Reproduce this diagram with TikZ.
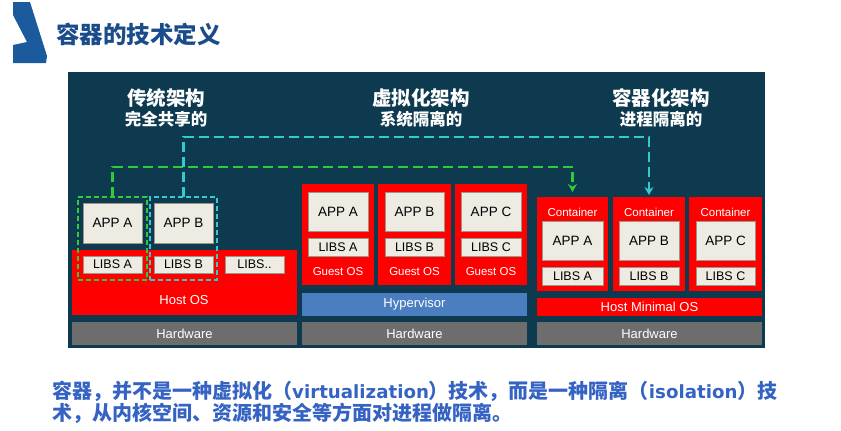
\documentclass[tikz,border=0pt]{standalone}
\usepackage{fontspec}
\setmainfont{Liberation Sans}
\newfontfamily\cjk{Noto Sans CJK SC}
\newfontfamily\dvs{DejaVu Sans}
\usetikzlibrary{arrows.meta}
\definecolor{panelc}{HTML}{0E3A50}
\definecolor{redc}{HTML}{FF0000}
\definecolor{boxc}{HTML}{EEEBE2}
\definecolor{boxedge}{HTML}{9A968C}
\definecolor{hwc}{HTML}{6D6D6D}
\definecolor{hypc}{HTML}{4A7EC0}
\definecolor{dgreen}{HTML}{2FCB3A}
\definecolor{dcyan}{HTML}{33CCCC}
\definecolor{titleblue}{HTML}{1A4C8C}
\definecolor{logoblue}{HTML}{1B5A9C}
\definecolor{txtblue}{HTML}{3463C4}
\newcommand\mkbox[7]{\node[#2,minimum width={(#5)-(#3)},minimum height={(#6)-(#4)}] (#1) at ({((#3)+(#5))/2},{((#4)+(#6))/2}) {#7};}
\tikzset{
  basebox/.style={inner sep=0pt, outer sep=0pt},
  lightbox/.style={basebox, fill=boxc, draw=boxedge, line width=0.3pt, text=black, font=\fontsize{13.5}{15}\selectfont},
  libbox/.style={lightbox, font=\fontsize{12.5}{14}\selectfont},
  redbox/.style={basebox, fill=redc, text=white, font=\fontsize{13}{15}\selectfont},
  hwbox/.style={basebox, fill=hwc, text=white, font=\fontsize{13}{15}\selectfont},
  hypbox/.style={basebox, fill=hypc, text=white, font=\fontsize{13}{15}\selectfont},
  whitetxt/.style={inner sep=0pt, text=white, font=\fontsize{13}{15}\selectfont},
  smalltxt/.style={inner sep=0pt, text=white, font=\fontsize{11.5}{13}\selectfont},
  gdashbox/.style={basebox, draw=dgreen, line width=2pt, dash pattern=on 5pt off 3pt},
  cdashbox/.style={basebox, draw=dcyan, line width=2pt, dash pattern=on 5pt off 3pt},
  gdash/.style={draw=dgreen, line width=2.8pt, dash pattern=on 10pt off 5pt, -{Stealth[length=8pt,width=9pt]}},
  cdash/.style={draw=dcyan, line width=2.8pt, dash pattern=on 10pt off 5pt, -{Stealth[length=8pt,width=9pt]}},
  head/.style={inner sep=0pt, text=white, font=\cjk\bfseries\fontsize{19.5}{21}\selectfont},
  subhead/.style={inner sep=0pt, text=white, font=\cjk\bfseries\fontsize{16.5}{18}\selectfont},
  bottomtxt/.style={anchor=west, inner sep=0pt, text=txtblue, font=\cjk\bfseries\fontsize{20}{22}\selectfont},
}
\newcommand\latw[1]{{\dvs\bfseries\fontsize{18.2}{20}\selectfont #1}}
\begin{document}
\begin{tikzpicture}[x=1pt,y=-1pt]
\useasboundingbox (0,0) rectangle (841,431);
\fill[white] (0,0) rectangle (841,431);
% logo and title
\fill[logoblue] (13,2) -- (30,2) -- (47,56) -- (46,63) -- (13,63) -- (13,45) -- (27,42) -- (13,15) -- cycle;
\node[anchor=west, inner sep=0pt, text=titleblue, font=\cjk\bfseries\fontsize{23.5}{26}\selectfont] (title) at (56,34) {容器的技术定义};
% panel
\mkbox{panel}{basebox, fill=panelc}{68}{72}{765}{348}{}
% headings
\node[head] (h1) at (166,98) {传统架构};
\node[subhead] (s1) at (166,119) {完全共享的};
\node[head] (h2) at (421,98) {虚拟化架构};
\node[subhead] (s2) at (421,119) {系统隔离的};
\node[head] (h3) at (661,98) {容器化架构};
\node[subhead] (s3) at (661,119) {进程隔离的};
% column 1
\mkbox{hw1}{hwbox}{72}{322}{297}{345}{Hardware}
\mkbox{hos1}{redbox}{72}{250}{297}{315}{}
\node[whitetxt] (hos1L) at (184,300) {Host OS};
\mkbox{appA1}{lightbox}{83}{203}{142}{243}{APP A}
\mkbox{appB1}{lightbox}{154}{203}{213}{243}{APP B}
\mkbox{libA1}{libbox}{83}{256}{142}{273}{LIBS A}
\mkbox{libB1}{libbox}{154}{256}{213}{273}{LIBS B}
\mkbox{libX1}{libbox}{225}{256}{284}{273}{LIBS..}
\mkbox{grect}{gdashbox}{78}{197}{147}{280}{}
\mkbox{crect}{cdashbox}{150}{197}{217}{280}{}
% column 2
\mkbox{hw2}{hwbox}{302}{322}{527}{345}{Hardware}
\mkbox{hyp}{hypbox}{302}{293}{527}{316}{Hypervisor}
\mkbox{vm1}{redbox}{302}{184}{374}{285}{}
\mkbox{vm2}{redbox}{378}{184}{451}{285}{}
\mkbox{vm3}{redbox}{455}{184}{527}{285}{}
\mkbox{appA2}{lightbox}{308}{192}{368}{231}{APP A}
\mkbox{appB2}{lightbox}{385}{192}{444}{231}{APP B}
\mkbox{appC2}{lightbox}{461}{192}{521}{231}{APP C}
\mkbox{libA2}{libbox}{308}{238}{368}{256}{LIBS A}
\mkbox{libB2}{libbox}{385}{238}{444}{256}{LIBS B}
\mkbox{libC2}{libbox}{461}{238}{521}{256}{LIBS C}
\node[smalltxt] (g1) at (338,272) {Guest OS};
\node[smalltxt] (g2) at (414.5,272) {Guest OS};
\node[smalltxt] (g3) at (491,272) {Guest OS};
% column 3
\mkbox{hw3}{hwbox}{537}{322}{762}{345}{Hardware}
\mkbox{hmos}{redbox}{537}{298}{762}{316}{Host Minimal OS}
\mkbox{c1}{redbox}{537}{197}{608}{291}{}
\mkbox{c2}{redbox}{613}{197}{685}{291}{}
\mkbox{c3}{redbox}{689}{197}{762}{291}{}
\node[smalltxt] (ct1) at (572.5,212) {Container};
\node[smalltxt] (ct2) at (649,212) {Container};
\node[smalltxt] (ct3) at (725.5,212) {Container};
\mkbox{appA3}{lightbox}{542}{221}{603}{260}{APP A}
\mkbox{appB3}{lightbox}{619}{221}{679}{260}{APP B}
\mkbox{appC3}{lightbox}{696}{221}{755}{260}{APP C}
\mkbox{libA3}{libbox}{542}{267}{603}{285}{LIBS A}
\mkbox{libB3}{libbox}{619}{267}{679}{285}{LIBS B}
\mkbox{libC3}{libbox}{696}{267}{755}{285}{LIBS C}
% connectors
\draw[gdash, shorten >=5pt] (grect.north) -- ++(0,-30) -| (c1.north);
\draw[cdash, shorten >=2pt] (crect.north) -- ++(0,-60) -| (c2.north);
% bottom text
\node[bottomtxt] (line1) at (52,391) {容器，并不是一种虚拟化（\latw{virtualization}）技术，而是一种隔离（\latw{isolation}）技};
\node[bottomtxt] (line2) at (52,413) {术，从内核空间、资源和安全等方面对进程做隔离。};
\end{tikzpicture}
\end{document}
